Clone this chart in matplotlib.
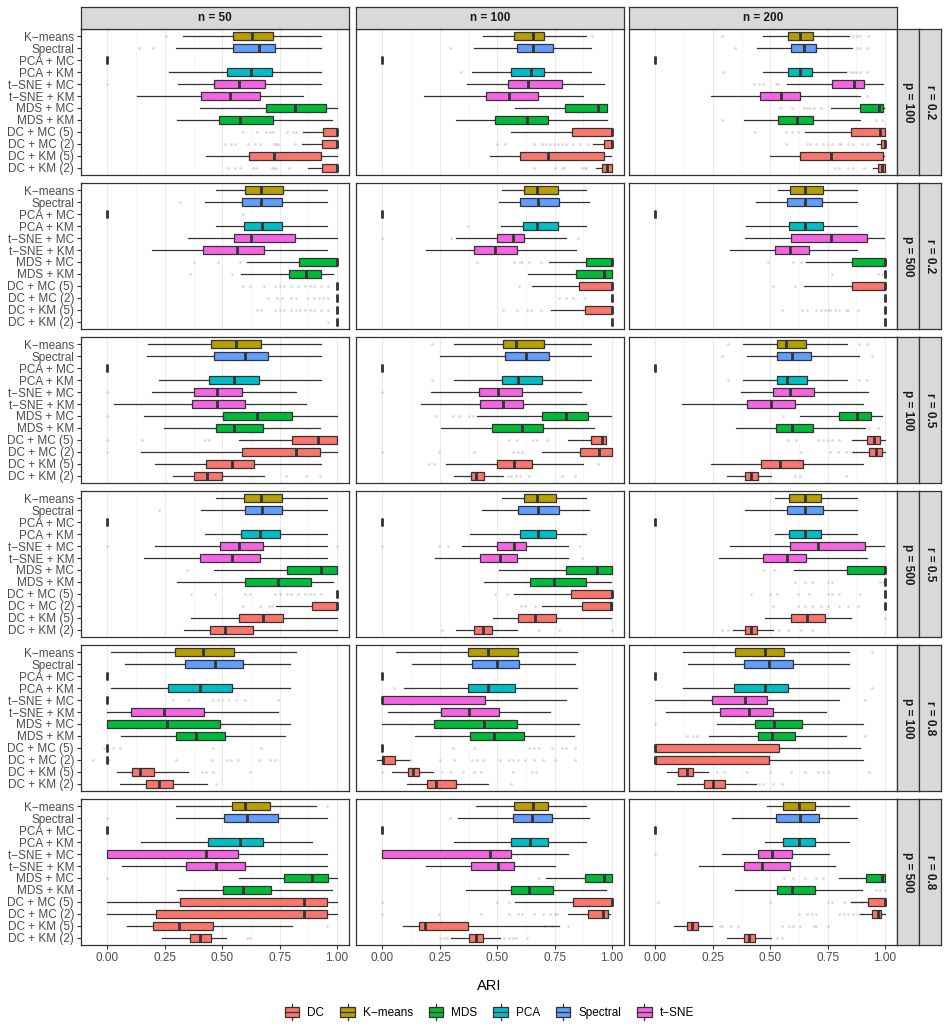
import matplotlib.pyplot as plt
from matplotlib.patches import Patch, Rectangle
from matplotlib.lines import Line2D
from matplotlib.legend_handler import HandlerBase

plt.rcParams['font.family'] = ['Liberation Sans', 'DejaVu Sans']

MINUS = '\u2212'
methods = ['K' + MINUS + 'means', 'Spectral', 'PCA + MC', 'PCA + KM',
           't' + MINUS + 'SNE + MC', 't' + MINUS + 'SNE + KM', 'MDS + MC', 'MDS + KM',
           'DC + MC (5)', 'DC + MC (2)', 'DC + KM (5)', 'DC + KM (2)']
method_group = ['K-means', 'Spectral', 'PCA', 'PCA', 't-SNE', 't-SNE',
                'MDS', 'MDS', 'DC', 'DC', 'DC', 'DC']
group_colors = {'DC': '#F8766D', 'K-means': '#B79F00', 'MDS': '#00BA38',
                'PCA': '#00BFC4', 'Spectral': '#619CFF', 't-SNE': '#F564E3'}
legend_groups = ['DC', 'K-means', 'MDS', 'PCA', 'Spectral', 't-SNE']
legend_labels = ['DC', 'K' + MINUS + 'means', 'MDS', 'PCA', 'Spectral', 't' + MINUS + 'SNE']

n_labels = ['n = 50', 'n = 100', 'n = 200']
p_labels = ['p = 100', 'p = 500', 'p = 100', 'p = 500', 'p = 100', 'p = 500']
r_labels = ['r = 0.2', 'r = 0.2', 'r = 0.5', 'r = 0.5', 'r = 0.8', 'r = 0.8']

Z = (0, 0, 0, 0, 0)
O = (1, 1, 1, 1, 1)

# box stats per method: (whisker low, q1, median, q3, whisker high)
s_r02_p100_n50 = [(0.329, 0.546, 0.631, 0.720, 0.930), (0.299, 0.548, 0.661, 0.730, 0.930), Z,
                  (0.268, 0.522, 0.624, 0.717, 0.930), (0.308, 0.463, 0.572, 0.685, 0.930),
                  (0.127, 0.407, 0.534, 0.663, 0.852), (0.403, 0.690, 0.817, 0.951, 0.998),
                  (0.301, 0.487, 0.577, 0.723, 0.976), (0.852, 0.937, 1.0, 1.0, 1.0),
                  (0.849, 0.934, 1.0, 1.0, 1.0), (0.430, 0.616, 0.727, 0.930, 1.0),
                  (0.873, 0.934, 1.0, 1.0, 1.0)]
s_r02_p100_n100 = [(0.436, 0.573, 0.655, 0.704, 0.887), (0.397, 0.584, 0.655, 0.742, 0.909), Z,
                   (0.389, 0.561, 0.648, 0.704, 0.909), (0.369, 0.549, 0.636, 0.780, 0.967),
                   (0.181, 0.453, 0.552, 0.679, 0.875), (0.578, 0.793, 0.937, 0.979, 0.979),
                   (0.322, 0.490, 0.631, 0.720, 0.977), (0.561, 0.824, 1.0, 1.0, 1.0),
                   (0.915, 0.963, 1.0, 1.0, 1.0), (0.470, 0.599, 0.720, 0.965, 0.997),
                   (0.930, 0.958, 0.976, 1.0, 1.0)]
s_r02_p100_n200 = [(0.469, 0.577, 0.629, 0.686, 0.842), (0.442, 0.591, 0.645, 0.701, 0.858), Z,
                   (0.469, 0.577, 0.629, 0.683, 0.828), (0.571, 0.769, 0.864, 0.909, 0.990),
                   (0.241, 0.454, 0.547, 0.631, 0.893), (0.765, 0.891, 0.974, 0.990, 0.997),
                   (0.385, 0.533, 0.616, 0.686, 0.891), (0.653, 0.850, 0.980, 1.0, 1.0),
                   (0.964, 0.982, 1.0, 1.0, 1.0), (0.498, 0.629, 0.764, 0.993, 0.997),
                   (0.946, 0.971, 0.987, 1.0, 1.0)]
s_r02_p500_n50 = [(0.471, 0.597, 0.670, 0.763, 0.957), (0.426, 0.588, 0.670, 0.760, 0.957), Z,
                  (0.471, 0.595, 0.673, 0.760, 0.957), (0.351, 0.553, 0.624, 0.816, 0.998),
                  (0.195, 0.416, 0.565, 0.682, 0.957), (0.607, 0.833, 1.0, 1.0, 1.0),
                  (0.583, 0.790, 0.864, 0.932, 0.983), O, O, O, O]
s_r02_p500_n100 = [(0.519, 0.618, 0.671, 0.765, 0.887), (0.509, 0.601, 0.678, 0.767, 0.899), Z,
                   (0.516, 0.613, 0.672, 0.765, 0.887), (0.321, 0.497, 0.568, 0.618, 0.800),
                   (0.188, 0.397, 0.490, 0.584, 0.843), (0.725, 0.887, 1.0, 1.0, 1.0),
                   (0.636, 0.845, 0.965, 1.0, 1.0), (0.653, 0.857, 1.0, 1.0, 1.0), O,
                   (0.732, 0.880, 1.0, 1.0, 1.0), O]
s_r02_p500_n200 = [(0.534, 0.587, 0.650, 0.730, 0.876), (0.436, 0.574, 0.650, 0.724, 0.876), Z,
                   (0.394, 0.581, 0.653, 0.730, 0.876), (0.388, 0.591, 0.764, 0.923, 0.997),
                   (0.323, 0.520, 0.588, 0.669, 0.876), (0.654, 0.858, 1.0, 1.0, 1.0), O,
                   (0.647, 0.854, 1.0, 1.0, 1.0), O, O, O]
s_r05_p100_n50 = [(0.177, 0.449, 0.560, 0.670, 0.930), (0.172, 0.466, 0.600, 0.699, 0.930), Z,
                  (0.224, 0.442, 0.551, 0.661, 0.930), (0.193, 0.379, 0.477, 0.586, 0.821),
                  (0.030, 0.369, 0.478, 0.600, 0.864), (0.160, 0.503, 0.652, 0.805, 0.998),
                  (0.247, 0.471, 0.551, 0.677, 0.927), (0.574, 0.805, 0.918, 0.998, 0.998),
                  (0.146, 0.586, 0.821, 0.927, 0.998), (0.209, 0.430, 0.541, 0.638, 0.930),
                  (0.287, 0.376, 0.435, 0.499, 0.680)]
s_r05_p100_n100 = [(0.310, 0.523, 0.582, 0.702, 0.909), (0.249, 0.533, 0.627, 0.726, 0.909), Z,
                   (0.310, 0.521, 0.589, 0.693, 0.909), (0.211, 0.420, 0.505, 0.606, 0.866),
                   (0.167, 0.427, 0.523, 0.613, 0.887), (0.413, 0.693, 0.801, 0.894, 0.997),
                   (0.256, 0.476, 0.610, 0.700, 0.923), (0.808, 0.909, 0.955, 0.974, 0.974),
                   (0.693, 0.861, 0.944, 1.0, 1.0), (0.279, 0.497, 0.571, 0.653, 0.875),
                   (0.310, 0.387, 0.409, 0.444, 0.526)]
s_r05_p100_n200 = [(0.380, 0.530, 0.569, 0.657, 0.836), (0.401, 0.531, 0.596, 0.679, 0.885), Z,
                   (0.380, 0.528, 0.572, 0.660, 0.836), (0.371, 0.511, 0.584, 0.690, 0.927),
                   (0.114, 0.399, 0.504, 0.607, 0.902), (0.629, 0.801, 0.876, 0.937, 0.987),
                   (0.353, 0.526, 0.596, 0.685, 0.911), (0.857, 0.921, 0.952, 0.977, 1.0),
                   (0.861, 0.931, 0.959, 0.985, 1.0), (0.241, 0.460, 0.542, 0.644, 0.902),
                   (0.311, 0.388, 0.418, 0.447, 0.504)]
s_r05_p500_n50 = [(0.471, 0.595, 0.670, 0.760, 0.957), (0.407, 0.597, 0.673, 0.760, 0.957), Z,
                  (0.426, 0.583, 0.664, 0.751, 0.957), (0.209, 0.490, 0.572, 0.678, 0.957),
                  (0.160, 0.403, 0.543, 0.663, 0.957), (0.464, 0.781, 0.929, 0.998, 0.998),
                  (0.304, 0.597, 0.743, 0.887, 0.981), O, (0.734, 0.892, 0.998, 0.998, 0.998),
                  (0.365, 0.574, 0.677, 0.765, 0.998), (0.334, 0.447, 0.513, 0.635, 0.998)]
s_r05_p500_n100 = [(0.519, 0.617, 0.672, 0.758, 0.887), (0.432, 0.592, 0.676, 0.767, 0.899), Z,
                   (0.380, 0.601, 0.676, 0.754, 0.887), (0.345, 0.497, 0.571, 0.627, 0.807),
                   (0.230, 0.427, 0.514, 0.584, 0.807), (0.507, 0.800, 0.936, 1.0, 1.0),
                   (0.441, 0.643, 0.746, 0.885, 0.997), (0.571, 0.821, 1.0, 1.0, 1.0),
                   (0.695, 0.871, 0.997, 1.0, 1.0), (0.481, 0.589, 0.664, 0.758, 0.997),
                   (0.321, 0.401, 0.439, 0.479, 0.585)]
s_r05_p500_n200 = [(0.520, 0.582, 0.650, 0.723, 0.876), (0.388, 0.575, 0.650, 0.730, 0.876), Z,
                   (0.520, 0.582, 0.653, 0.723, 0.876), (0.323, 0.584, 0.708, 0.914, 0.997),
                   (0.277, 0.467, 0.574, 0.654, 0.920), (0.603, 0.836, 1.0, 1.0, 1.0), O, O, O,
                   (0.476, 0.590, 0.661, 0.737, 0.853), (0.337, 0.391, 0.418, 0.442, 0.514)]
s_r08_p100_n50 = [(0.014, 0.294, 0.417, 0.553, 0.821), (0.075, 0.339, 0.470, 0.591, 0.793), Z,
                  (0.017, 0.264, 0.403, 0.541, 0.793), Z, (0.0, 0.104, 0.247, 0.419, 0.743),
                  (0.0, 0.0, 0.261, 0.490, 0.793), (0.059, 0.299, 0.386, 0.513, 0.774), Z, Z,
                  (0.040, 0.106, 0.143, 0.205, 0.351), (0.054, 0.169, 0.226, 0.287, 0.435)]
s_r08_p100_n100 = [(0.061, 0.371, 0.460, 0.589, 0.847), (0.131, 0.392, 0.497, 0.596, 0.840), Z,
                   (0.094, 0.371, 0.460, 0.578, 0.847), (0.0, 0.0, 0.0, 0.448, 0.798),
                   (0.026, 0.253, 0.378, 0.509, 0.728), (0.0, 0.225, 0.444, 0.584, 0.857),
                   (0.141, 0.383, 0.486, 0.618, 0.836), Z, (-0.024, 0.0, 0.003, 0.056, 0.117),
                   (0.042, 0.110, 0.134, 0.159, 0.220), (0.108, 0.195, 0.235, 0.319, 0.460)]
s_r08_p100_n200 = [(0.121, 0.346, 0.476, 0.562, 0.842), (0.143, 0.384, 0.495, 0.599, 0.842), Z,
                   (0.121, 0.342, 0.476, 0.577, 0.842), (0.0, 0.248, 0.391, 0.486, 0.799),
                   (0.047, 0.283, 0.406, 0.511, 0.745), (0.269, 0.434, 0.515, 0.638, 0.902),
                   (0.235, 0.447, 0.507, 0.607, 0.831), (0.0, 0.0, 0.0, 0.540, 0.891),
                   (0.0, 0.0, 0.0, 0.493, 0.902), (0.051, 0.099, 0.139, 0.164, 0.231),
                   (0.092, 0.210, 0.251, 0.304, 0.438)]
s_r08_p500_n50 = [(0.299, 0.543, 0.600, 0.706, 0.908), (0.299, 0.508, 0.607, 0.745, 0.957), Z,
                  (0.146, 0.438, 0.577, 0.678, 0.890), (0.0, 0.0, 0.430, 0.570, 0.957),
                  (0.064, 0.343, 0.473, 0.597, 0.957), (0.572, 0.767, 0.890, 0.962, 0.998),
                  (0.304, 0.504, 0.590, 0.713, 0.976), (0.0, 0.317, 0.856, 0.957, 0.998),
                  (0.0, 0.212, 0.856, 0.957, 0.998), (0.087, 0.200, 0.313, 0.461, 0.803),
                  (0.238, 0.358, 0.403, 0.452, 0.517)]
s_r08_p500_n100 = [(0.408, 0.575, 0.657, 0.721, 0.887), (0.329, 0.568, 0.653, 0.740, 0.899), Z,
                   (0.310, 0.559, 0.643, 0.721, 0.887), (0.0, 0.0, 0.470, 0.561, 0.807),
                   (0.188, 0.387, 0.502, 0.573, 0.753), (0.714, 0.882, 0.963, 1.0, 1.0),
                   (0.364, 0.559, 0.639, 0.742, 0.974), (0.578, 0.828, 1.0, 1.0, 1.0),
                   (0.810, 0.895, 0.962, 0.983, 0.991), (0.091, 0.159, 0.186, 0.373, 0.770),
                   (0.300, 0.378, 0.408, 0.436, 0.512)]
s_r08_p500_n200 = [(0.486, 0.555, 0.625, 0.696, 0.841), (0.333, 0.526, 0.631, 0.711, 0.876), Z,
                   (0.477, 0.555, 0.625, 0.696, 0.841), (0.292, 0.447, 0.507, 0.596, 0.756),
                   (0.190, 0.384, 0.463, 0.587, 0.781), (0.799, 0.917, 0.988, 1.0, 1.0),
                   (0.346, 0.528, 0.594, 0.693, 0.898), (0.851, 0.926, 1.0, 1.0, 1.0),
                   (0.893, 0.945, 0.968, 0.982, 1.0), (0.080, 0.139, 0.161, 0.187, 0.245),
                   (0.311, 0.384, 0.409, 0.435, 0.504)]

# outliers, keyed by method index
f_r02_p100_n50 = {0: [0.257], 1: [0.139, 0.197], 4: [0.0],
                  8: [0.59, 0.65, 0.69, 0.71, 0.72, 0.78, 0.81, 0.82],
                  9: [0.51, 0.536, 0.557, 0.613, 0.643, 0.666, 0.724, 0.734, 0.743, 0.818],
                  11: [0.525, 0.557, 0.578, 0.633, 0.647, 0.717, 0.724, 0.734, 0.79]}
f_r02_p100_n100 = {0: [0.913], 1: [0.296], 3: [0.343],
                   9: [0.5, 0.533, 0.662, 0.697, 0.711, 0.728, 0.746, 0.763, 0.78, 0.798, 0.828, 0.862, 0.894],
                   11: [0.662, 0.751, 0.78, 0.789, 0.868, 0.88, 0.885]}
f_r02_p100_n200 = {0: [0.292, 0.861, 0.876, 0.89, 0.927], 1: [0.346, 0.876, 0.89, 0.92],
                   3: [0.296, 0.847, 0.86, 0.875, 0.89, 0.923], 4: [0.43, 0.45, 0.47, 0.525, 0.535],
                   5: [0.923], 6: [0.543, 0.594, 0.647, 0.66, 0.675, 0.69, 0.72],
                   7: [0.292, 0.959, 0.985], 8: [0.435, 0.57, 0.594, 0.62],
                   9: [0.567, 0.66, 0.675, 0.7, 0.73, 0.75, 0.77, 0.8, 0.81, 0.84, 0.86, 0.9, 0.92],
                   11: [0.78, 0.8, 0.84, 0.86, 0.91]}
f_r02_p500_n50 = {1: [0.318], 2: [0.59], 6: [0.377, 0.482, 0.577], 7: [0.36, 0.542],
                  8: [0.59, 0.62, 0.68, 0.73, 0.75, 0.77, 0.8, 0.83, 0.86, 0.88, 0.9, 0.93, 0.96],
                  9: [0.7, 0.74, 0.76, 0.8, 0.82, 0.87, 0.9, 0.92, 0.94, 0.96],
                  10: [0.65, 0.67, 0.73, 0.75, 0.77, 0.8, 0.82, 0.84, 0.86, 0.88, 0.9, 0.93, 0.96],
                  11: [0.96]}
f_r02_p500_n100 = {3: [0.373], 4: [0.0, 0.3, 0.85], 6: [0.41, 0.575, 0.6, 0.61, 0.64, 0.69],
                   8: [0.593], 9: [0.77, 0.8, 0.83, 0.88], 10: [0.525, 0.585, 0.63, 0.645, 0.69]}
f_r02_p500_n200 = {6: [0.489, 0.6, 0.635], 7: [0.77, 0.97, 0.985], 8: [0.514, 0.61],
                   10: [0.55, 0.64, 0.66, 0.7, 0.72, 0.74, 0.75, 0.76, 0.78, 0.8, 0.83, 0.84, 0.88]}
f_r05_p100_n50 = {4: [0.0], 6: [0.0], 8: [0.0, 0.151, 0.424, 0.442], 9: [0.0],
                  11: [0.776, 0.864, 0.925]}
f_r05_p100_n100 = {0: [0.215], 3: [0.215], 4: [0.0], 6: [0.233, 0.308, 0.334, 0.378, 0.395],
                   8: [0.552, 0.587, 0.657, 0.674, 0.718], 9: [0.0, 0.247, 0.4, 0.57, 0.59, 0.61],
                   10: [0.204, 0.226, 0.94], 11: [0.547, 0.56, 0.58, 0.6, 0.64, 0.78, 0.84]}
f_r05_p100_n200 = {0: [0.316, 0.888, 0.923], 1: [0.292, 0.943], 3: [0.316, 0.888, 0.923],
                   6: [0.555], 7: [0.929, 0.968], 8: [0.577, 0.613, 0.708, 0.73, 0.75, 0.77, 0.8],
                   9: [0.635, 0.759, 0.795, 0.83, 0.85, 0.86], 11: [0.606, 0.628, 0.828]}
f_r05_p500_n50 = {1: [0.226], 4: [0.0, 1.0], 6: [0.348],
                  8: [0.365, 0.468, 0.6, 0.62, 0.73, 0.75, 0.78, 0.8, 0.83, 0.86, 0.88, 0.9, 0.93],
                  9: [0.59, 0.664, 0.702, 0.717]}
f_r05_p500_n100 = {4: [0.0, 0.247, 0.286, 0.86], 5: [0.871], 8: [0.49, 0.542],
                   9: [0.605, 0.622, 0.665], 11: [0.261, 0.683, 0.77, 1.0]}
f_r05_p500_n200 = {6: [0.472, 0.515], 7: [0.607, 0.65, 0.68, 0.75, 0.77, 0.98, 0.99],
                   8: [0.416, 0.5, 0.53, 0.62, 0.67, 0.75, 0.77, 0.8, 0.89],
                   9: [0.514, 0.62, 0.65, 0.68, 0.72, 0.75, 0.8, 0.84, 0.88], 10: [1.0],
                   11: [0.292, 0.314, 0.54, 0.576, 0.635, 0.68]}
f_r08_p100_n50 = {4: [0.285, 0.351, 0.46, 0.48, 0.5, 0.53, 0.56, 0.6, 0.742],
                  8: [-0.014, 0.024, 0.056, 0.461, 0.668],
                  9: [-0.063, 0.007, 0.299, 0.456, 0.52, 0.54, 0.569, 0.66, 0.71, 0.73],
                  10: [0.412, 0.43, 0.461, 0.621], 11: [0.473]}
f_r08_p100_n100 = {3: [0.052], 8: [0.309, 0.4, 0.64, 0.66, 0.68, 0.74, 0.78, 0.8, 0.84],
                   9: [0.124, 0.251, 0.31, 0.39, 0.41, 0.44, 0.51, 0.55, 0.57, 0.59, 0.62, 0.66, 0.7, 0.75, 0.84],
                   10: [0.0, 0.26, 0.3, 0.35, 0.4, 0.43, 0.57, 0.65, 0.67], 11: [0.56]}
f_r08_p100_n200 = {0: [0.945], 3: [0.945], 4: [0.912], 6: [0.0], 7: [0.139, 0.163, 0.182, 0.912],
                   10: [0.27, 0.3, 0.4, 0.5, 0.59, 0.65, 0.71, 0.73, 0.75, 0.93],
                   11: [0.453, 0.47, 0.51, 0.55]}
f_r08_p500_n50 = {0: [0.957], 1: [0.0], 6: [0.0], 10: [0.957], 11: [0.61, 0.62]}
f_r08_p500_n100 = {1: [0.296], 6: [0.68], 8: [0.0, 0.5, 0.55],
                   9: [0.0, 0.247, 0.43, 0.55, 0.59, 0.61, 0.66, 0.7, 0.73, 0.75, 0.76],
                   10: [0.71, 0.74, 0.81], 11: [0.25, 0.27, 0.28, 0.53, 0.55, 0.57, 0.58, 0.63]}
f_r08_p500_n200 = {4: [0.0], 6: [0.56, 0.6, 0.65, 0.7, 0.73], 7: [0.96, 0.98, 1.0],
                   8: [0.012, 0.5, 0.75, 0.77, 0.82, 0.85, 0.87, 0.89, 0.9, 0.93],
                   9: [0.625, 0.66, 0.68, 0.7, 0.8, 0.82, 0.84, 0.86, 0.88, 0.9],
                   10: [0.28, 0.29, 0.33, 0.36, 0.55, 0.58, 0.6, 0.63, 0.69, 0.7, 0.75],
                   11: [0.53, 0.55]}

panel_stats = [[s_r02_p100_n50, s_r02_p100_n100, s_r02_p100_n200],
               [s_r02_p500_n50, s_r02_p500_n100, s_r02_p500_n200],
               [s_r05_p100_n50, s_r05_p100_n100, s_r05_p100_n200],
               [s_r05_p500_n50, s_r05_p500_n100, s_r05_p500_n200],
               [s_r08_p100_n50, s_r08_p100_n100, s_r08_p100_n200],
               [s_r08_p500_n50, s_r08_p500_n100, s_r08_p500_n200]]
panel_fliers = [[f_r02_p100_n50, f_r02_p100_n100, f_r02_p100_n200],
                [f_r02_p500_n50, f_r02_p500_n100, f_r02_p500_n200],
                [f_r05_p100_n50, f_r05_p100_n100, f_r05_p100_n200],
                [f_r05_p500_n50, f_r05_p500_n100, f_r05_p500_n200],
                [f_r08_p100_n50, f_r08_p100_n100, f_r08_p100_n200],
                [f_r08_p500_n50, f_r08_p500_n100, f_r08_p500_n200]]

W, H = 949, 1027
EDGE = '#333333'
fig = plt.figure(figsize=(W / 100, H / 100), dpi=100)


def rect(x, y, w, h):
    return [x / W, 1 - (y + h) / H, w / W, h / H]


col_left = [81, 356, 629]
row_top = [29, 183, 337, 491, 645, 799]
pw, ph = 268, 146
fs = 8.5


def strip(box, label, rotation=0):
    s = fig.add_axes(box)
    s.set_facecolor('#D9D9D9')
    s.set_xticks([])
    s.set_yticks([])
    for sp in s.spines.values():
        sp.set_color(EDGE)
        sp.set_linewidth(0.9)
    s.text(0.5, 0.5, label, ha='center', va='center', rotation=rotation,
           fontsize=fs, fontweight='bold', color='#1A1A1A', transform=s.transAxes)


for i in range(6):
    for j in range(3):
        ax = fig.add_axes(rect(col_left[j], row_top[i], pw, ph))
        stats = [{'whislo': lo, 'q1': q1, 'med': md, 'q3': q3, 'whishi': hi, 'fliers': []}
                 for lo, q1, md, q3, hi in panel_stats[i][j]]
        pos = list(range(1, len(methods) + 1))
        res = ax.bxp(stats, positions=pos, widths=0.72, orientation='horizontal',
                     patch_artist=True, showfliers=False, showcaps=False,
                     boxprops=dict(edgecolor=EDGE, linewidth=0.9),
                     whiskerprops=dict(color=EDGE, linewidth=0.9),
                     medianprops=dict(color=EDGE, linewidth=2.0, solid_capstyle='butt'))
        for k, b in enumerate(res['boxes']):
            b.set_facecolor(group_colors[method_group[k]])
        for k, vals in panel_fliers[i][j].items():
            ax.scatter(vals, [k + 1] * len(vals), s=4, color='#999999', alpha=0.35,
                       linewidths=0, zorder=1)
        ax.set_xlim(-0.115, 1.052)
        ax.set_ylim(12.6, 0.4)
        ax.set_xticks([0, 0.25, 0.5, 0.75, 1.0])
        ax.set_xticks([0.125, 0.375, 0.625, 0.875], minor=True)
        ax.grid(axis='x', which='major', color='#EBEBEB', linewidth=0.9)
        ax.grid(axis='x', which='minor', color='#F2F2F2', linewidth=0.5)
        ax.set_axisbelow(True)
        for sp in ax.spines.values():
            sp.set_color(EDGE)
            sp.set_linewidth(0.9)
        ax.tick_params(which='minor', length=0)
        ax.tick_params(axis='both', length=3, color=EDGE, width=0.8,
                       labelsize=fs, labelcolor='#4D4D4D', pad=2)
        ax.set_yticks(pos)
        if j == 0:
            ax.set_yticklabels(methods)
        else:
            ax.tick_params(axis='y', length=0, labelleft=False)
        if i == 5:
            ax.set_xticklabels(['0.00', '0.25', '0.50', '0.75', '1.00'])
        else:
            ax.tick_params(axis='x', length=0, labelbottom=False)
        if i == 0:
            strip(rect(col_left[j], 7, pw, 22), n_labels[j])
    strip(rect(897, row_top[i], 22, ph), p_labels[i], rotation=-90)
    strip(rect(919, row_top[i], 22, ph), r_labels[i], rotation=-90)

fig.text(489 / W, 1 - 986 / H, 'ARI', ha='center', va='center', fontsize=10.5, color='black')


class BoxKey(HandlerBase):
    def create_artists(self, legend, orig_handle, xdescent, ydescent, width, height,
                       fontsize, trans):
        fc = orig_handle.get_facecolor()
        x0, y0 = -xdescent, -ydescent
        cx = x0 + width / 2
        bw, bh = width * 0.9, height * 0.7
        wl = Line2D([cx, cx], [y0 - 1, y0 + height + 1], color=EDGE, lw=0.9, transform=trans)
        box = Rectangle((cx - bw / 2, y0 + (height - bh) / 2), bw, bh, facecolor=fc,
                        edgecolor=EDGE, lw=0.9, transform=trans)
        med = Line2D([cx - bw / 2, cx + bw / 2], [y0 + height / 2] * 2, color=EDGE, lw=0.9,
                     transform=trans)
        return [wl, box, med]


handles = [Patch(facecolor=group_colors[g]) for g in legend_groups]
fig.legend(handles, legend_labels, handler_map={Patch: BoxKey()}, loc='center',
           bbox_to_anchor=(489 / W, 1 - 1012 / H), ncol=6, frameon=False, fontsize=fs,
           handlelength=1.35, handleheight=1.4, handletextpad=0.6, columnspacing=1.3)

fig.savefig('out.png', dpi=100)
